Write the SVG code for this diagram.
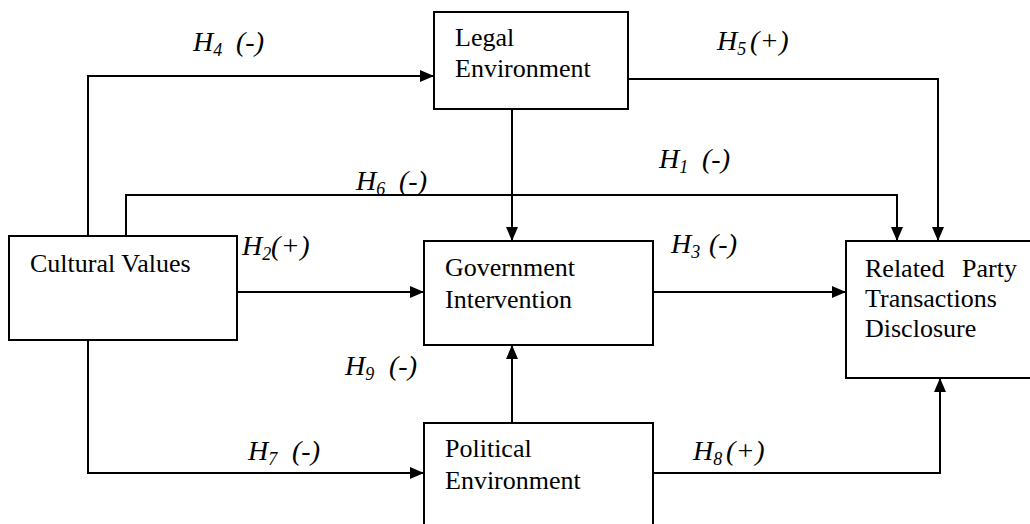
<svg xmlns="http://www.w3.org/2000/svg" width="1030" height="524" viewBox="0 0 1030 524">
<style>
.box{fill:#fff;stroke:#000;stroke-width:2}
.lbl{font-family:'Liberation Serif','Times New Roman',serif;font-size:26px;fill:#000}
.hyp{font-family:'Liberation Serif','Times New Roman',serif;font-size:28px;font-style:italic;fill:#000}
.sub{font-size:18px}
.pos{letter-spacing:0.5px}
.con{fill:none;stroke:#000;stroke-width:2}
</style>
<defs>
<marker id="arr" markerUnits="userSpaceOnUse" markerWidth="15" markerHeight="13" refX="14" refY="6" orient="auto">
<path d="M0,0 L14,6 L0,12 z" fill="#000"/>
</marker>
</defs>
<rect width="1030" height="524" fill="#fff"/>
<g id="connectors">
<path class="con" d="M88,236 V76 H434" marker-end="url(#arr)"/>
<path class="con" d="M126,236 V195 H897 V241" marker-end="url(#arr)"/>
<path class="con" d="M512,109 V241" marker-end="url(#arr)"/>
<path class="con" d="M628,79 H938 V241" marker-end="url(#arr)"/>
<path class="con" d="M237,292 H424" marker-end="url(#arr)"/>
<path class="con" d="M653,292 H846" marker-end="url(#arr)"/>
<path class="con" d="M88,340 V473 H424" marker-end="url(#arr)"/>
<path class="con" d="M512,423 V345" marker-end="url(#arr)"/>
<path class="con" d="M653,473 H940 V378" marker-end="url(#arr)"/>
</g>
<g id="labels">
<text class="hyp" x="193" y="51">H<tspan class="sub" dy="5">4</tspan><tspan x="236" dy="-5">(-)</tspan></text>
<text class="hyp" x="717" y="50">H<tspan class="sub" dy="5">5</tspan><tspan class="pos" x="750" dy="-5">(+)</tspan></text>
<text class="hyp" x="659" y="168">H<tspan class="sub" dy="5">1</tspan><tspan x="702" dy="-5">(-)</tspan></text>
<text class="hyp" x="356" y="190">H<tspan class="sub" dy="5">6</tspan><tspan x="399" dy="-5">(-)</tspan></text>
<text class="hyp" x="242" y="255">H<tspan class="sub" dy="5">2</tspan><tspan class="pos" x="271" dy="-5">(+)</tspan></text>
<text class="hyp" x="671" y="253">H<tspan class="sub" dy="5">3</tspan><tspan x="709" dy="-5">(-)</tspan></text>
<text class="hyp" x="345" y="375">H<tspan class="sub" dy="5">9</tspan><tspan x="389" dy="-5">(-)</tspan></text>
<text class="hyp" x="248" y="460">H<tspan class="sub" dy="5">7</tspan><tspan x="292" dy="-5">(-)</tspan></text>
<text class="hyp" x="693" y="460">H<tspan class="sub" dy="5">8</tspan><tspan class="pos" x="726" dy="-5">(+)</tspan></text>
</g>
<g id="legal">
<rect class="box" x="434" y="12" width="194" height="97"/>
<text class="lbl" x="455" y="46">Legal</text>
<text class="lbl" x="455" y="77">Environment</text>
</g>
<g id="cultural">
<rect class="box" x="9" y="236" width="228" height="104"/>
<text class="lbl" x="30" y="272">Cultural Values</text>
</g>
<g id="government">
<rect class="box" x="424" y="241" width="229" height="104"/>
<text class="lbl" x="445" y="276">Government</text>
<text class="lbl" x="445" y="308">Intervention</text>
</g>
<g id="related">
<rect class="box" x="846" y="241" width="190" height="137"/>
<text class="lbl" x="865" y="277">Related</text>
<text class="lbl" x="962" y="277">Party</text>
<text class="lbl" x="865" y="307">Transactions</text>
<text class="lbl" x="865" y="337">Disclosure</text>
</g>
<g id="political">
<rect class="box" x="424" y="423" width="229" height="110"/>
<text class="lbl" x="445" y="457">Political</text>
<text class="lbl" x="445" y="489">Environment</text>
</g>
</svg>
